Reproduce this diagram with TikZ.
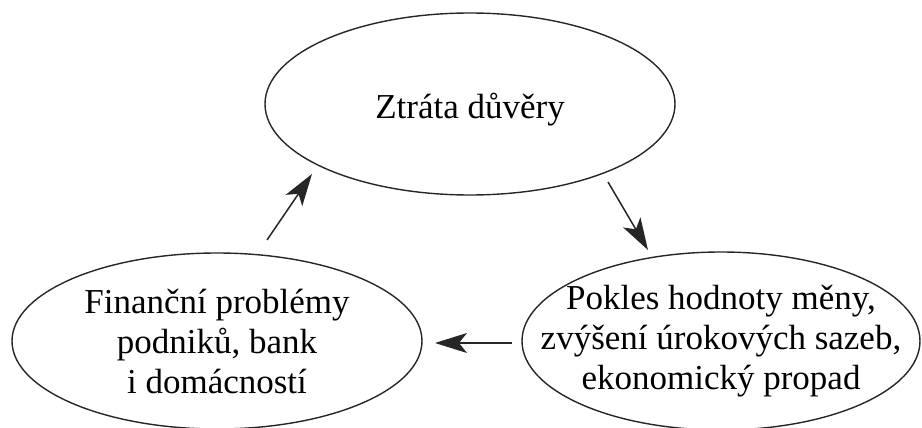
\documentclass[tikz,border=0pt]{standalone}
\usepackage{fontspec}
\setmainfont{Liberation Serif}
\usetikzlibrary{shapes.geometric,arrows.meta,calc}
\begin{document}
\begin{tikzpicture}[x=1pt,y=-1pt,
  ell/.style={ellipse, draw=black!85, line width=1.4pt, inner xsep=-80pt, inner ysep=-50pt, align=center,
    font=\fontsize{35}{40}\selectfont},
  arr/.style={line width=1.5pt, draw=black!85,
    -{Stealth[length=32pt,width=20pt,inset=8pt]}}]
\useasboundingbox (0,0) rectangle (922,428);
\node[ell, minimum width=410pt, minimum height=182pt, text height=28pt, text depth=0pt] (top) at (470,104) {Ztráta důvěry};
\node[ell, minimum width=410pt, minimum height=176pt] (left) at (217,341)
  {Finanční problémy\\podniků, bank\\i domácností};
\node[ell, minimum width=398pt, minimum height=178pt] (right) at (721,341)
  {Pokles hodnoty měny,\\zvýšení úrokových sazeb,\\ekonomický propad};
\draw[arr] ($(left)+(50,-101)$) -- ($(top)+(-158,70)$);
\draw[arr] ($(top)+(138,78)$) -- ($(right)+(-73,-91)$);
\draw[arr] ($(right)+(-209,2)$) -- ($(left)+(218,2)$);
\end{tikzpicture}
\end{document}
